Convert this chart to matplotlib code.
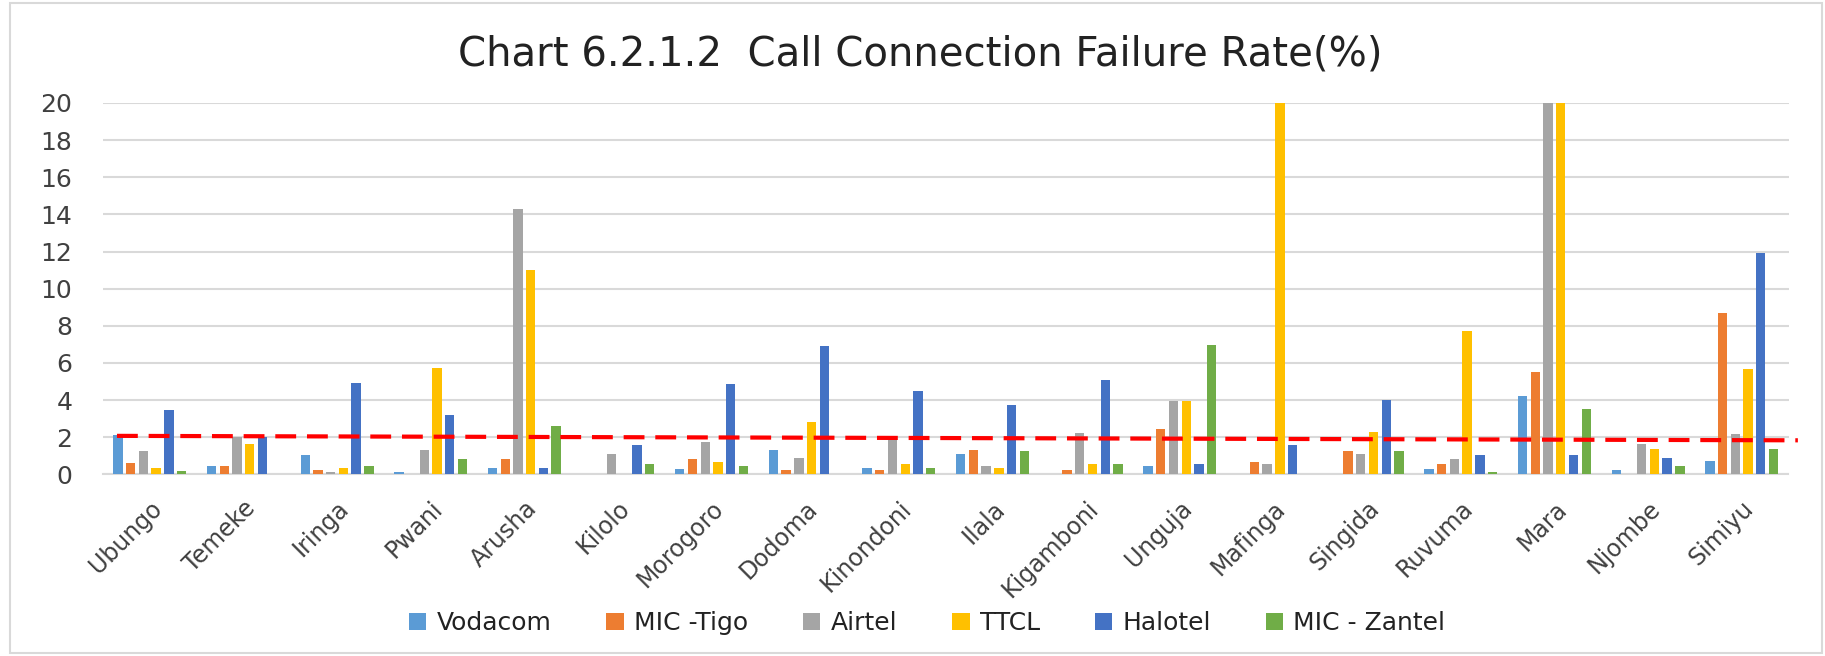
import numpy as np
import matplotlib
matplotlib.use("Agg")
import matplotlib.pyplot as plt
from matplotlib.patches import Rectangle

regions = ["Ubungo", "Temeke", "Iringa", "Pwani", "Arusha", "Kilolo", "Morogoro",
           "Dodoma", "Kinondoni", "Ilala", "Kigamboni", "Unguja", "Mafinga",
           "Singida", "Ruvuma", "Mara", "Njombe", "Simiyu"]

vodacom = [2.1, 0.43, 1.02, 0.1, 0.34, 0, 0.29, 1.3, 0.34, 1.08, 0, 0.47, 0, 0, 0.29, 4.23, 0.22, 0.7]
mic_tigo = [0.6, 0.43, 0.22, 0, 0.85, 0, 0.85, 0.22, 0.22, 1.33, 0.22, 2.46, 0.67, 1.24, 0.54, 5.52, 0, 8.7]
airtel = [1.24, 2.0, 0.1, 1.3, 14.3, 1.08, 1.74, 0.88, 1.92, 0.43, 2.23, 3.96, 0.54, 1.08, 0.81, 20, 1.65, 2.16]
ttcl = [0.34, 1.65, 0.34, 5.75, 11.0, 0, 0.67, 2.82, 0.54, 0.34, 0.54, 3.94, 20, 2.28, 7.73, 20, 1.38, 5.65]
halotel = [3.45, 2.0, 4.9, 3.18, 0.34, 1.6, 4.86, 6.92, 4.5, 3.72, 5.1, 0.54, 1.56, 4.0, 1.02, 1.02, 0.88, 11.9]
mic_zantel = [0.2, 0, 0.43, 0.85, 2.6, 0.54, 0.43, 0, 0.34, 1.24, 0.54, 6.96, 0, 1.24, 0.12, 3.5, 0.47, 1.38]

series_names = ["Vodacom", "MIC -Tigo", "Airtel", "TTCL", "Halotel", "MIC - Zantel"]
colors = ["#5B9BD5", "#ED7D31", "#A5A5A5", "#FFC000", "#4472C4", "#70AD47"]

# dashed red reference line (value at left end, value at right end)
ref_start = 2.07
ref_end = 1.83

fig = plt.figure(figsize=(18.25, 6.56), dpi=100)
ax = fig.add_axes([0.0564, 0.277, 0.9236, 0.566])

x = np.arange(len(regions))
step = 0.136
width = 0.10
for i, (name, vals, c) in enumerate(zip(series_names,
                                        [vodacom, mic_tigo, airtel, ttcl, halotel, mic_zantel],
                                        colors)):
    ax.bar(x + (i - 2.5) * step, vals, width=width, color=c, label=name, zorder=3)

ax.plot([-0.35, 17.6], [ref_start, ref_end], color="#FF0000", linestyle=(0, (5, 2.6)),
        linewidth=3, zorder=4, clip_on=False)

ax.set_xlim(-0.5, 17.5)
ax.set_ylim(0, 20)
ax.set_yticks(np.arange(0, 21, 2))
ax.yaxis.grid(True, color="#D9D9D9", linewidth=1.5, zorder=0)
ax.set_axisbelow(True)
for s in ["top", "right", "left"]:
    ax.spines[s].set_visible(False)
ax.spines["bottom"].set_color("#D9D9D9")
ax.spines["bottom"].set_linewidth(1.5)
ax.tick_params(axis="both", length=0, colors="#404040")
ax.tick_params(axis="y", pad=22, labelsize=18)
ax.set_xticks(x)
ax.set_xticklabels(regions, rotation=45, ha="right", va="top", rotation_mode="anchor")
ax.tick_params(axis="x", pad=16, labelsize=17)

fig.text(0.504, 0.917, "Chart 6.2.1.2  Call Connection Failure Rate(%)",
         ha="center", va="center", fontsize=29, color="#222222")

fig.legend(loc="center", bbox_to_anchor=(0.508, 0.05), ncol=6, frameon=False,
           fontsize=18, handlelength=0.7, handleheight=0.7, columnspacing=2.2,
           handletextpad=0.4, labelcolor="#222222")

fig.patches.append(Rectangle((10 / 1825, 3 / 656), 1812 / 1825, 650 / 656,
                             transform=fig.transFigure, fill=False,
                             edgecolor="#D9D9D9", linewidth=1.5))

fig.savefig("out.png", dpi=100)
